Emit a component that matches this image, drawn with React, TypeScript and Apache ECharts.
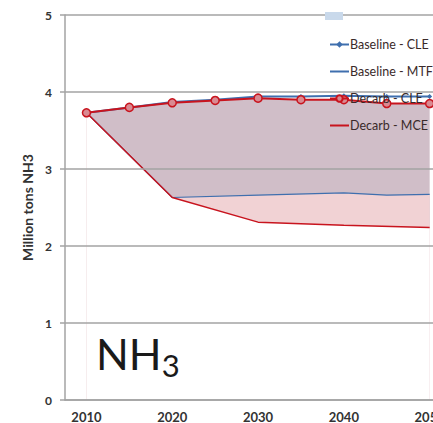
import React, { useEffect, useRef } from "react";
import * as echarts from "echarts";

const categories = ["2010", "2015", "2020", "2025", "2030", "2035", "2040", "2045", "2050", "2055"];
const yearsCLE = [2010, 2015, 2020, 2025, 2030, 2035, 2040, 2045, 2050];
const baselineCLE = [3.73, 3.8, 3.87, 3.9, 3.94, 3.94, 3.95, 3.94, 3.94];
const decarbCLE = [3.73, 3.8, 3.86, 3.89, 3.92, 3.9, 3.9, 3.85, 3.85];
const yearsMTFR = [2010, 2020, 2030, 2040, 2045, 2050];
const baselineMTFR = [3.73, 2.63, 2.66, 2.69, 2.66, 2.67];
const yearsMCE = [2010, 2020, 2030, 2040, 2050];
const decarbMCE = [3.73, 2.63, 2.31, 2.27, 2.24];
const yTicks = [0, 5, 1];

const pairs = (xs: number[], ys: number[]) => xs.map((x, i) => [x, ys[i]]);

const RED = "#c8141e";
const BLUE = "#3f6fae";
const FONT = "Lato";
const TRANSPARENT = "rgba(0,0,0,0)";

export default function App() {
  const ref = useRef<HTMLDivElement>(null);
  useEffect(() => {
    if (!ref.current) return;
    const chart = echarts.init(ref.current, null, { renderer: "svg" });
    const noSym = { symbol: "none", silent: true };
    chart.setOption({
      animation: false,
      textStyle: { fontFamily: FONT },
      grid: { left: 65, right: 26, top: 15, bottom: 22 },
      legend: {
        orient: "vertical",
        left: 324,
        top: 32,
        itemWidth: 19,
        itemHeight: 8,
        itemGap: 12,
        textStyle: { fontSize: 12.5, color: "#3a2a2a", fontFamily: FONT, lineHeight: 15, padding: [0, 0, 0, -4] },
        data: ["Baseline - CLE", "Baseline - MTFR", "Decarb - CLE", "Decarb - MCE"],
      },
      xAxis: [
        { type: "value", min: 2007.5, max: 2057.5, show: false, position: "top" },
        {
          type: "category",
          position: "bottom",
          data: categories,
          boundaryGap: true,
          z: 5,
          axisLine: { lineStyle: { color: "#a3a3a3", width: 1.5 } },
          axisTick: { length: 5, lineStyle: { color: "#a3a3a3", width: 1.5 } },
          axisLabel: { interval: 1, fontSize: 13, fontWeight: "bold", color: "#333", margin: 10, fontFamily: FONT },
        },
      ],
      yAxis: {
        type: "value",
        min: yTicks[0],
        max: yTicks[1],
        interval: yTicks[2],
        z: 5,
        name: "Million tons NH3",
        nameLocation: "middle",
        nameGap: 25,
        nameTextStyle: { fontSize: 14, fontWeight: "bold", color: "#333", fontFamily: FONT },
        axisLine: { show: true, lineStyle: { color: "#a3a3a3", width: 1.5 } },
        axisTick: { show: true, length: 5, lineStyle: { color: "#a3a3a3", width: 1.5 } },
        axisLabel: { fontSize: 12, fontWeight: "bold", color: "#333", margin: 13, fontFamily: FONT },
        splitLine: { show: true, lineStyle: { color: "#a3a3a3", width: 1.5 } },
      },
      graphic: [
        { type: "rect", z: 10, shape: { x: 325, y: 12, width: 18, height: 8 }, style: { fill: "#c9d9eb" } },
        {
          type: "text",
          z: 10,
          left: 96,
          top: 332,
          style: {
            text: "{a|NH}{b|3}",
            fill: "#1a1a1a",
            fontFamily: FONT,
            rich: {
              a: { fontSize: 43, lineHeight: 43, padding: [0, 0, 5, 0], verticalAlign: "bottom", fontFamily: FONT, fill: "#1a1a1a" },
              b: { fontSize: 31, lineHeight: 31, verticalAlign: "bottom", fontFamily: FONT, fill: "#1a1a1a" },
            },
          },
        },
      ],
      series: [
        { name: "fillTop", type: "line", data: pairs(yearsCLE, decarbCLE), ...noSym, lineStyle: { width: 0 }, areaStyle: { color: "#d0bec8", opacity: 1 }, z: 1 },
        { name: "fillMid", type: "line", data: pairs(yearsMTFR, baselineMTFR), ...noSym, lineStyle: { width: 0 }, areaStyle: { color: "#f1d2d4", opacity: 1 }, z: 1 },
        { name: "fillLow", type: "line", data: pairs(yearsMCE, decarbMCE), ...noSym, lineStyle: { width: 0 }, areaStyle: { color: "#ffffff", opacity: 1 }, z: 1 },
        { name: "Baseline - MTFR", type: "line", data: pairs(yearsMTFR, baselineMTFR), symbol: "none", lineStyle: { color: BLUE, width: 1.2 }, itemStyle: { color: TRANSPARENT, borderWidth: 0 }, z: 2 },
        { name: "Decarb - MCE", type: "line", data: pairs(yearsMCE, decarbMCE), symbol: "none", lineStyle: { color: RED, width: 1.5 }, itemStyle: { color: TRANSPARENT, borderWidth: 0 }, z: 2 },
        { name: "Baseline - CLE", type: "line", data: pairs(yearsCLE, baselineCLE), symbol: "diamond", symbolSize: 5, lineStyle: { color: BLUE, width: 2 }, itemStyle: { color: BLUE }, z: 2 },
        { name: "Decarb - CLE", type: "line", data: pairs(yearsCLE, decarbCLE), symbol: "circle", symbolSize: 8, lineStyle: { color: RED, width: 2 }, itemStyle: { color: "#d98a92", borderColor: RED, borderWidth: 1.5 }, z: 2 },
      ],
    });
    return () => chart.dispose();
  }, []);
  return (
    <div style={{ position: "fixed", left: 0, top: 0, width: 433, height: 423, overflow: "hidden", background: "#fff" }}>
      <div ref={ref} style={{ width: 520, height: 423 }} />
    </div>
  );
}
